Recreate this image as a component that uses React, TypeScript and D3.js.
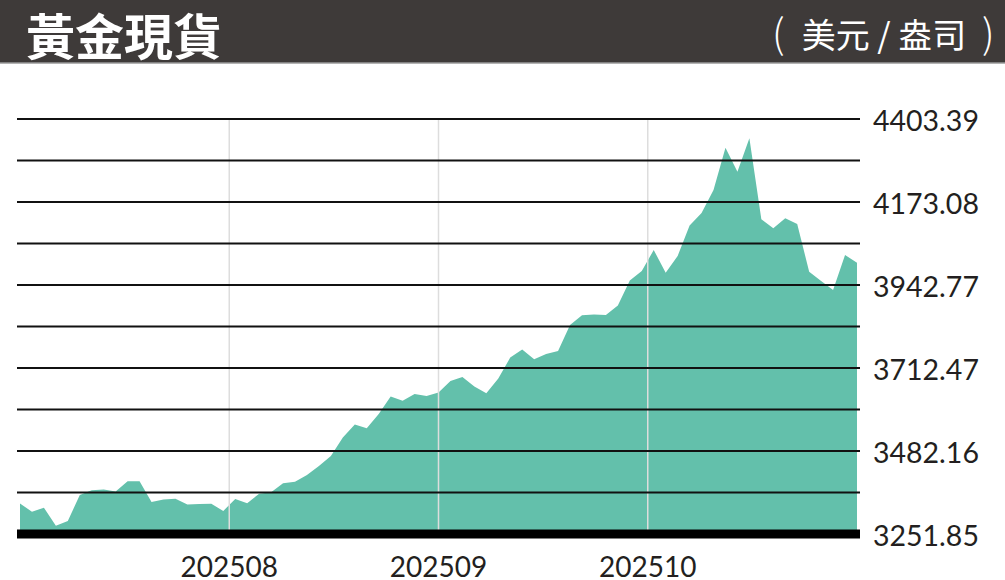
import React from "react";
import * as d3 from "d3";

// Trading dates (2025) and gold spot closes (USD / oz)
const dates: string[] = [
  "07-25", "07-28", "07-29", "07-30", "07-31",
  "08-01", "08-04", "08-05", "08-06", "08-07", "08-08", "08-11", "08-12", "08-13", "08-14", "08-15",
  "08-18", "08-19", "08-20", "08-21", "08-22", "08-25", "08-26", "08-27", "08-28", "08-29",
  "09-01", "09-02", "09-03", "09-04", "09-05", "09-08", "09-09", "09-10", "09-11", "09-12",
  "09-15", "09-16", "09-17", "09-18", "09-19", "09-22", "09-23", "09-24", "09-25", "09-26",
  "09-29", "09-30",
  "10-01", "10-02", "10-03", "10-06", "10-07", "10-08", "10-09", "10-10", "10-13", "10-14",
  "10-15", "10-16", "10-17", "10-20", "10-21", "10-22", "10-23", "10-24", "10-27", "10-28",
  "10-29", "10-30", "10-31",
];

const prices: number[] = [
  3336.5, 3313.7, 3324.8, 3274.9, 3288.0, 3360.0, 3373.0, 3375.0, 3369.8, 3398.0,
  3398.0, 3340.6, 3347.6, 3349.8, 3334.0, 3335.0, 3335.9, 3315.7, 3349.0, 3337.0,
  3363.7, 3368.0, 3393.0, 3397.0, 3415.6, 3440.5, 3468.0, 3519.6, 3555.7, 3545.0,
  3584.8, 3633.4, 3621.7, 3640.3, 3634.8, 3644.5, 3676.4, 3687.5, 3661.0, 3642.3,
  3683.0, 3741.6, 3763.8, 3736.6, 3751.3, 3759.6, 3831.8, 3858.7, 3861.0, 3859.5,
  3886.0, 3955.3, 3981.6, 4039.9, 3976.9, 4023.3, 4108.0, 4142.6, 4206.4, 4323.7,
  4257.0, 4349.8, 4125.0, 4100.0, 4127.9, 4112.0, 3979.7, 3953.9, 3928.9, 4026.0,
  4004.7,
];

const monthLabels: string[] = ["202508", "202509", "202510"];

const yMin = 3251.85;
const yMax = 4403.39;

const title = "黃金現貨";
const unitParts: string[] = ["(", "美元 / 盎司", ")"];

export default function App() {
  const W = 1005;
  const H = 580;
  const left = 20;
  const right = 857;
  const gridLeft = 17;
  const gridRight = 860;
  const top = 119;
  const bottom = 534;

  const n = prices.length;
  const x = d3.scaleLinear().domain([0, n - 1]).range([left, right]);
  const y = d3.scaleLinear().domain([yMin, yMax]).range([bottom, top]);

  const area = d3
    .area<number>()
    .x((_, i) => x(i))
    .y0(bottom)
    .y1((d) => y(d))
    .curve(d3.curveLinear);

  const gridVals = d3.range(11).map((k) => yMin + (k * (yMax - yMin)) / 10);
  const monthPos = monthLabels.map((_, k) => ((k + 1) * (n - 1)) / 4);
  const numFont = "Lato, 'Open Sans', sans-serif";
  const cjk = "'Noto Sans CJK TC', 'Noto Sans CJK SC', sans-serif";

  return (
    <svg
      width={W}
      height={H}
      viewBox={`0 0 ${W} ${H}`}
      style={{ position: "absolute", left: 0, top: 0, background: "#fff" }}
    >
      {/* header */}
      <rect x={0} y={0} width={W} height={63} fill="#3e3a39" />
      <line x1={0} x2={W} y1={63} y2={63} stroke="#9a9a9a" strokeWidth={1.5} />
      <text
        x={26}
        y={33}
        dominantBaseline="central"
        fill="#ffffff"
        fontSize={49}
        fontWeight={700}
        fontFamily={cjk}
      >
        {title}
      </text>
      <text
        x={772}
        y={31}
        dominantBaseline="central"
        fill="#ffffff"
        fontSize={40}
        fontWeight={300}
        fontFamily={cjk}
      >
        {unitParts[0]}
      </text>
      <text
        x={884}
        y={33}
        textAnchor="middle"
        dominantBaseline="central"
        fill="#ffffff"
        fontSize={34}
        fontWeight={400}
        fontFamily={cjk}
      >
        {unitParts[1]}
      </text>
      <text
        x={982}
        y={31}
        dominantBaseline="central"
        fill="#ffffff"
        fontSize={40}
        fontWeight={300}
        fontFamily={cjk}
      >
        {unitParts[2]}
      </text>

      {/* area */}
      <path d={area(prices) || ""} fill="#63c0ab" />

      {/* vertical month lines */}
      {monthPos.map((p, k) => (
        <line
          key={"v" + k}
          x1={x(p)}
          x2={x(p)}
          y1={top}
          y2={bottom}
          stroke="#dddddd"
          strokeWidth={1.5}
        />
      ))}

      {/* horizontal grid */}
      {gridVals.slice(1).map((v, k) => (
        <line
          key={"h" + k}
          x1={gridLeft}
          x2={gridRight}
          y1={y(v)}
          y2={y(v)}
          stroke="#111"
          strokeWidth={2}
        />
      ))}
      <line
        x1={gridLeft}
        x2={gridRight}
        y1={y(yMin)}
        y2={y(yMin)}
        stroke="#000"
        strokeWidth={9}
      />

      {/* y labels */}
      {gridVals
        .filter((_, k) => k % 2 === 0)
        .map((v, k) => (
          <text
            key={"yl" + k}
            x={873}
            y={y(v) + 1}
            dominantBaseline="central"
            fontSize={28.5}
            fill="#231f20"
            fontFamily={numFont}
          >
            {d3.format(".2f")(v)}
          </text>
        ))}

      {/* x labels */}
      {monthLabels.map((lab, k) => (
        <text
          key={"xl" + k}
          x={x(monthPos[k])}
          y={577}
          textAnchor="middle"
          fontSize={28}
          fill="#231f20"
          fontFamily={numFont}
        >
          {lab}
        </text>
      ))}
    </svg>
  );
}
